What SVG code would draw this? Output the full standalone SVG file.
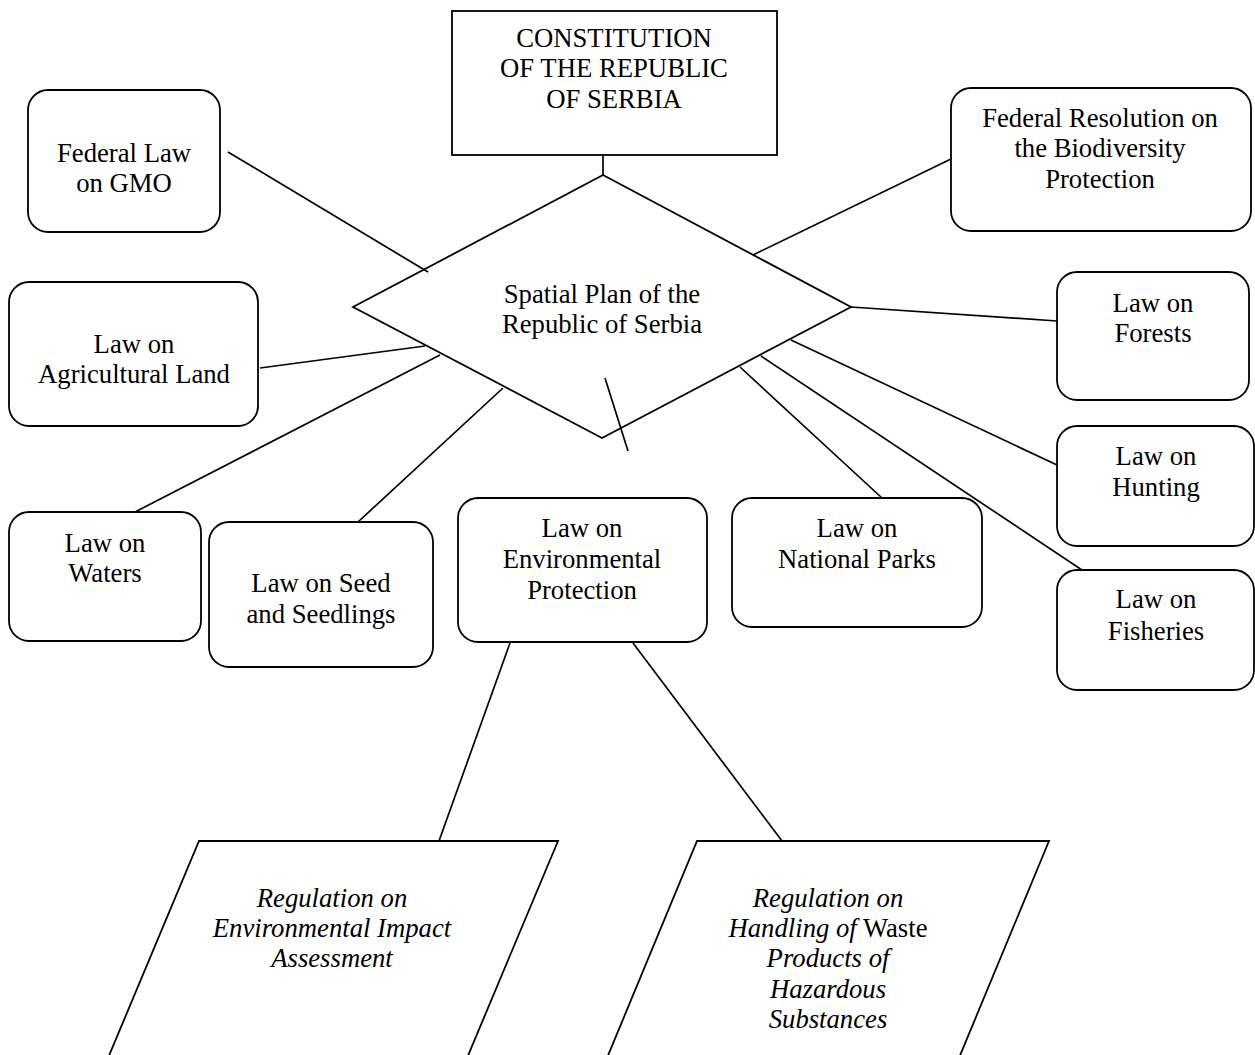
<svg xmlns="http://www.w3.org/2000/svg" width="1255" height="1055" viewBox="0 0 1255 1055">
<style>
.box{fill:#fff;stroke:#000;stroke-width:1.8}
.t{font-family:"Liberation Serif","Times New Roman",serif;font-size:26.7px;fill:#000;text-anchor:middle}
.i{font-style:italic}
.c line{stroke:#000;stroke-width:1.7}
</style>
<rect width="1255" height="1055" fill="#fff"/>
<g id="constitution">
<rect class="box" x="452" y="11" width="325" height="144"/>
<text class="t" x="614" y="47">CONSTITUTION</text>
<text class="t" x="614" y="77">OF THE REPUBLIC</text>
<text class="t" x="614" y="108">OF SERBIA</text>
</g>
<g id="spatial-plan">
<polygon class="box" points="603,175 851,307 602,438 353,307"/>
<text class="t" x="602" y="303">Spatial Plan of the</text>
<text class="t" x="602" y="333">Republic of Serbia</text>
</g>
<g id="gmo">
<rect class="box" x="28" y="90" width="192" height="142" rx="20"/>
<text class="t" x="124" y="162">Federal Law</text>
<text class="t" x="124" y="192">on GMO</text>
</g>
<g id="agricultural">
<rect class="box" x="9" y="282" width="249" height="144" rx="20"/>
<text class="t" x="134" y="353">Law on</text>
<text class="t" x="134" y="383">Agricultural Land</text>
</g>
<g id="biodiversity">
<rect class="box" x="951" y="88" width="300" height="143" rx="20"/>
<text class="t" x="1100" y="127">Federal Resolution on</text>
<text class="t" x="1100" y="157">the Biodiversity</text>
<text class="t" x="1100" y="188">Protection</text>
</g>
<g id="forests">
<rect class="box" x="1057" y="272" width="192" height="128" rx="20"/>
<text class="t" x="1153" y="312">Law on</text>
<text class="t" x="1153" y="342">Forests</text>
</g>
<g id="hunting">
<rect class="box" x="1057" y="426" width="197" height="120" rx="20"/>
<text class="t" x="1156" y="465">Law on</text>
<text class="t" x="1156" y="496">Hunting</text>
</g>
<g id="fisheries">
<rect class="box" x="1057" y="570" width="197" height="120" rx="20"/>
<text class="t" x="1156" y="608">Law on</text>
<text class="t" x="1156" y="640">Fisheries</text>
</g>
<g id="waters">
<rect class="box" x="9" y="512" width="192" height="129" rx="20"/>
<text class="t" x="105" y="552">Law on</text>
<text class="t" x="105" y="582">Waters</text>
</g>
<g id="seed">
<rect class="box" x="209" y="522" width="224" height="145" rx="20"/>
<text class="t" x="321" y="592">Law on Seed</text>
<text class="t" x="321" y="623">and Seedlings</text>
</g>
<g id="environmental">
<rect class="box" x="458" y="498" width="249" height="144" rx="20"/>
<text class="t" x="582" y="537">Law on</text>
<text class="t" x="582" y="568">Environmental</text>
<text class="t" x="582" y="599">Protection</text>
</g>
<g id="national-parks">
<rect class="box" x="732" y="498" width="250" height="129" rx="20"/>
<text class="t" x="857" y="537">Law on</text>
<text class="t" x="857" y="568">National Parks</text>
</g>
<g id="eia">
<polygon class="box" points="199,841 558,841 462,1070 103,1070"/>
<text class="t i" x="332" y="907">Regulation on</text>
<text class="t i" x="332" y="937">Environmental Impact</text>
<text class="t i" x="332" y="967">Assessment</text>
</g>
<g id="hazardous">
<polygon class="box" points="697,841 1049,841 954,1070 602,1070"/>
<text class="t i" x="828" y="907">Regulation on</text>
<text class="t" x="828" y="937"><tspan class="i">Handling of</tspan> Waste</text>
<text class="t i" x="828" y="967">Products of</text>
<text class="t i" x="828" y="998">Hazardous</text>
<text class="t i" x="828" y="1028">Substances</text>
</g>
<g id="connectors" class="c">
<line x1="603" y1="155" x2="603" y2="175"/>
<line x1="228" y1="152" x2="428" y2="272"/>
<line x1="260" y1="368" x2="425" y2="346"/>
<line x1="135" y1="512" x2="440" y2="355"/>
<line x1="358" y1="522" x2="503" y2="388"/>
<line x1="605" y1="378" x2="628" y2="451"/>
<line x1="951" y1="159" x2="753" y2="255"/>
<line x1="851" y1="307" x2="1057" y2="321"/>
<line x1="791" y1="340" x2="1057" y2="465"/>
<line x1="761" y1="356" x2="1082" y2="570"/>
<line x1="740" y1="367" x2="882" y2="498"/>
<line x1="510" y1="643" x2="439" y2="841"/>
<line x1="633" y1="643" x2="782" y2="841"/>
</g>
</svg>
